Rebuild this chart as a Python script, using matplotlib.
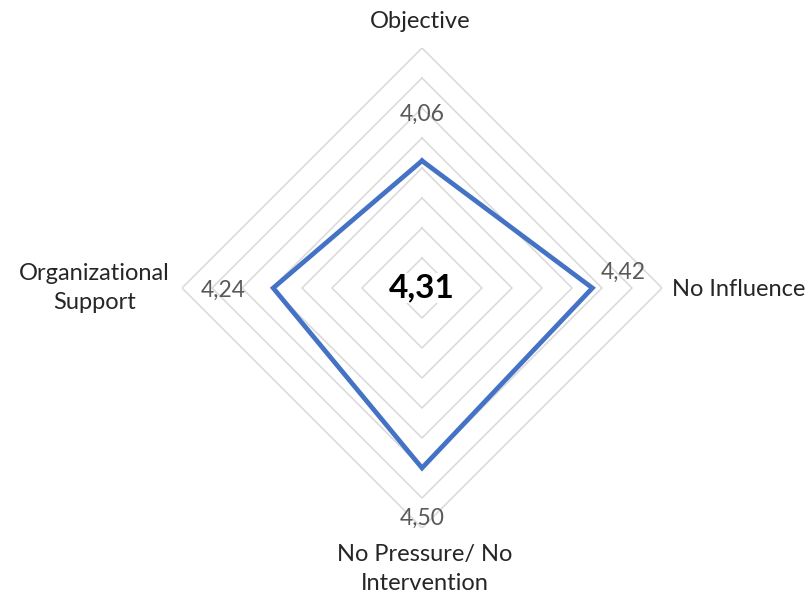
import numpy as np
import matplotlib
matplotlib.use("Agg")
import matplotlib.pyplot as plt

plt.rcParams['font.family'] = ['Lato', 'DejaVu Sans']

# data
categories = ["Objective", "No Influence", "No Pressure/ No\nIntervention", "Organizational\nSupport"]
values = [4.06, 4.42, 4.50, 4.24]
value_labels = ["4,06", "4,42", "4,50", "4,24"]
overall_label = "4,31"
r_min, r_max = 3.0, 5.0
ring_levels = [3.25, 3.5, 3.75, 4.0, 4.25, 4.5, 4.75, 5.0]

# label offsets in pixels (dx, dy) from the data point / outer vertex
value_offsets = [(0, 46), (31, 16), (0, -50), (-50, -2)]
cat_offsets = [(-2, 27, 'center', 'center'), (10, -2, 'left', 'center'),
               (3, -16, 'center', 'top'), (-12, 0, 'right', 'center')]

W, H, dpi = 811, 603, 100
cx, cy, R = 422, 288, 240

fig = plt.figure(figsize=(W / dpi, H / dpi), dpi=dpi)
ax = fig.add_axes([(cx - R) / W, (H - cy - R) / H, 2 * R / W, 2 * R / H], projection='polar')
ax.set_theta_offset(np.pi / 2)
ax.set_theta_direction(-1)
ax.set_ylim(r_min, r_max)
ax.grid(False)
ax.spines['polar'].set_visible(False)
ax.set_xticks([])
ax.set_yticks([])
ax.patch.set_alpha(0)

theta = np.arange(len(categories)) * 2 * np.pi / len(categories)
theta_closed = np.append(theta, theta[0])

for lev in ring_levels:
    ax.plot(theta_closed, [lev] * len(theta_closed), color='#d9d9d9', lw=1.1, zorder=1)

vals_closed = np.append(values, values[0])
ax.plot(theta_closed, vals_closed, color='#4472c4', lw=3.4, solid_joinstyle='miter', zorder=3)

px = 72 / dpi
for t, v, lab, (dx, dy) in zip(theta, values, value_labels, value_offsets):
    ax.annotate(lab, xy=(t, v), xytext=(dx * px, dy * px), textcoords='offset points',
                ha='center', va='center', fontsize=16.5, color='#595959', zorder=4,
                annotation_clip=False)

for t, lab, (dx, dy, ha, va) in zip(theta, categories, cat_offsets):
    ax.annotate(lab, xy=(t, r_max), xytext=(dx * px, dy * px), textcoords='offset points',
                ha=ha, va=va, multialignment='center', fontsize=17, color='#262626',
                linespacing=1.5, annotation_clip=False)

ax.text(0, r_min, overall_label, ha='center', va='center', fontsize=24,
        fontweight='bold', color='black', zorder=5,
        bbox=dict(facecolor='white', edgecolor='none', pad=0.5))

fig.savefig("out.png", dpi=dpi, facecolor='white')
